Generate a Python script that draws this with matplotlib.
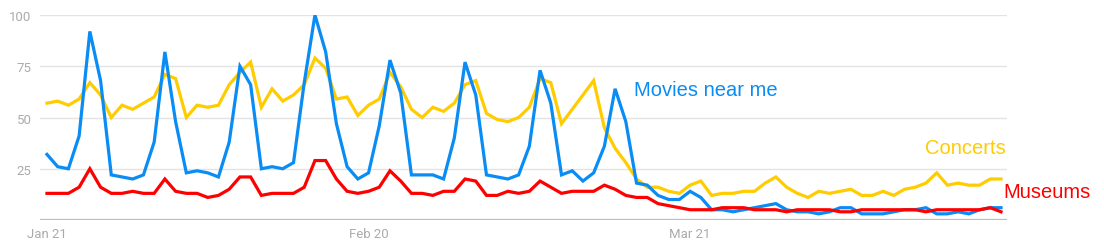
import matplotlib.pyplot as plt
import numpy as np
import pandas as pd

dates = pd.date_range("2020-01-21", periods=90, freq="D")

movies = [
    32, 26, 25, 41, 92, 68, 22, 21, 20, 22,
    38, 82, 48, 23, 24, 23, 21, 38, 75, 66,
    25, 26, 25, 28, 67, 100, 82, 47, 26, 20,
    23, 46, 78, 62, 22, 22, 22, 20, 40, 77,
    61, 22, 21, 20, 22, 36, 73, 57, 22, 24,
    19, 23, 36, 64, 48, 18, 17, 12, 10, 10,
    14, 11, 5, 5, 4, 5, 6, 7, 8, 5,
    4, 4, 3, 4, 6, 6, 3, 3, 3, 4,
    5, 5, 6, 3, 3, 4, 3, 5, 6, 6,
]
concerts = [
    57, 58, 56, 59, 67, 61, 50, 56, 54, 57,
    60, 71, 69, 50, 56, 55, 56, 66, 72, 77,
    55, 64, 58, 61, 66, 79, 74, 59, 60, 51,
    56, 59, 72, 65, 54, 50, 55, 53, 57, 66,
    68, 52, 49, 48, 50, 55, 69, 67, 47, 54,
    61, 68, 45, 35, 28, 20, 16, 16, 14, 13,
    17, 19, 12, 13, 13, 14, 14, 18, 21, 16,
    13, 11, 14, 13, 14, 15, 12, 12, 14, 12,
    15, 16, 18, 23, 17, 18, 17, 17, 20, 20,
]
museums = [
    13, 13, 13, 16, 25, 16, 13, 13, 14, 13,
    13, 20, 14, 13, 13, 11, 12, 15, 21, 21,
    12, 13, 13, 13, 16, 29, 29, 20, 14, 13,
    14, 16, 24, 19, 13, 13, 12, 14, 14, 20,
    19, 12, 12, 14, 13, 14, 19, 16, 13, 14,
    14, 14, 17, 15, 12, 11, 11, 8, 7, 6,
    5, 5, 5, 6, 6, 6, 5, 5, 5, 4,
    5, 5, 5, 5, 4, 4, 5, 5, 5, 5,
    5, 5, 4, 5, 5, 5, 5, 5, 6, 4,
]
series_names = ["Movies near me", "Concerts", "Museums"]
y_ticks = [25, 50, 75, 100]
x_tick_dates = ["2020-01-21", "2020-02-20", "2020-03-21"]
x_tick_labels = ["Jan 21", "Feb 20", "Mar 21"]

blue = "#0a8cf5"
yellow = "#ffcc00"
red = "#ff0000"
tick_color = "#ababab"

fig = plt.figure(figsize=(11.04, 2.51), dpi=100)
ax = fig.add_axes([40 / 1104, 1 - 221 / 251, 967 / 1104, 205 / 251])

for value in y_ticks:
    ax.axhline(value, color="#e3e3e3", linewidth=1.0, zorder=1)
ax.axhline(0, color="#bdbdbd", linewidth=1.6, zorder=1)

ax.plot(dates, concerts, color=yellow, linewidth=2.3, zorder=3, solid_joinstyle="miter")
ax.plot(dates, movies, color=blue, linewidth=2.3, zorder=4, solid_joinstyle="miter")
ax.plot(dates, museums, color=red, linewidth=2.3, zorder=5, solid_joinstyle="miter")

day = pd.Timedelta(days=1)
ax.set_xlim(dates[0] - day * 0.65, dates[-1] + day * 0.56)
ax.set_ylim(0, 100)

ax.set_yticks(y_ticks)
ax.set_yticklabels([str(v) for v in y_ticks])
ax.set_xticks(pd.to_datetime(x_tick_dates))
ax.set_xticklabels(x_tick_labels)
ax.tick_params(axis="both", length=0, colors=tick_color, labelsize=9.5)
ax.tick_params(axis="y", pad=6)
ax.tick_params(axis="x", pad=5)
for label in ax.get_xticklabels() + ax.get_yticklabels():
    label.set_family("Roboto")

for spine in ax.spines.values():
    spine.set_visible(False)

label_font = "Liberation Sans"
fig.text(634 / 1104, 1 - 91 / 251, series_names[0], color=blue, fontsize=14.5,
         family=label_font, ha="left", va="center")
fig.text(1006 / 1104, 1 - 148 / 251, series_names[1], color=yellow, fontsize=14.5,
         family=label_font, ha="right", va="center")
fig.text(1003 / 1104, 1 - 193 / 251, series_names[2], color=red, fontsize=14.5,
         family=label_font, ha="left", va="center")

fig.savefig("out.png", dpi=100)
